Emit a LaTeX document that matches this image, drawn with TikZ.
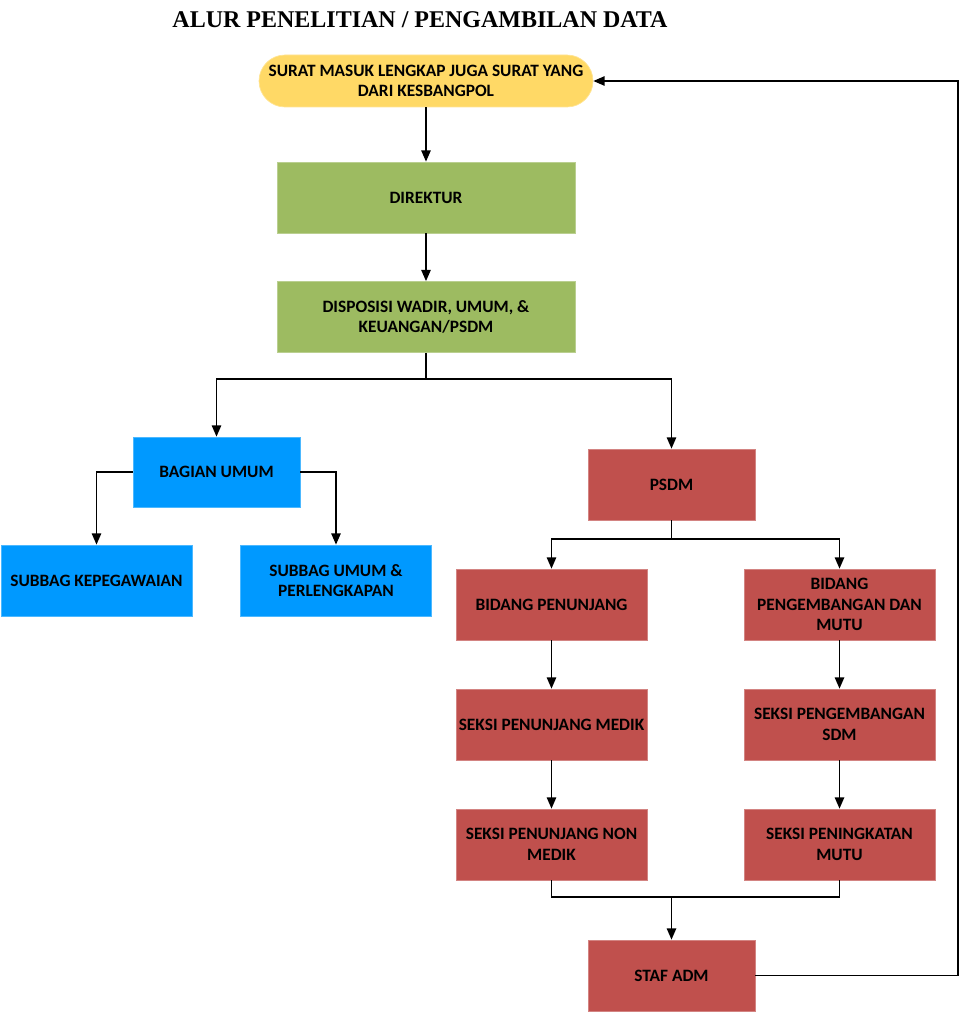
\documentclass[tikz,border=0pt]{standalone}
\usepackage{fontspec}
\setmainfont{Carlito}
\newfontfamily\titlefont{Liberation Serif}
\usetikzlibrary{arrows.meta}

\definecolor{suratyellow}{RGB}{255,217,102}
\definecolor{dirgreen}{RGB}{157,187,97}
\definecolor{umumblue}{RGB}{0,153,255}
\definecolor{psdmred}{RGB}{192,80,77}

\tikzset{
  box/.style={draw=#1!70!white, fill=#1, line width=0.5pt, align=center,
    font=\bfseries\fontsize{13}{15.5}\selectfont, inner sep=2pt},
  wide/.style={box=dirgreen, minimum width=223.5pt, minimum height=53.25pt},
  mid/.style={box=#1, minimum width=143.25pt, minimum height=53.25pt},
  small/.style={box=#1, minimum width=125.25pt, minimum height=53.25pt},
  line/.style={line width=1.3pt},
}

\begin{document}
\begin{tikzpicture}[x=0.75pt,y=-0.75pt,>={Triangle[length=8.5pt,width=7pt]}]
    % frame of the page
    \useasboundingbox (0,0) rectangle (961,1013);

    % title
    \node (title) at (420,20) {\titlefont\bfseries\fontsize{18}{20}\selectfont ALUR PENELITIAN / PENGAMBILAN DATA};

    % top of the flow
    \node[box=suratyellow, minimum width=250.5pt, minimum height=39pt, rounded corners=19.5pt] (surat) at (426,81)
        {SURAT MASUK LENGKAP JUGA SURAT YANG\\DARI KESBANGPOL};
    \node[wide] (direktur) at (426,197.5) {DIREKTUR};
    \node[wide] (disposisi) at (426,317) {DISPOSISI WADIR, UMUM, \&\\KEUANGAN/PSDM};

    % bagian umum
    \node[small=umumblue, minimum height=52.5pt] (bagian) at (216.5,472) {BAGIAN UMUM};
    \node[mid=umumblue] (kepeg) at (96.5,580.5) {SUBBAG KEPEGAWAIAN};
    \node[mid=umumblue] (perleng) at (336,580.5) {SUBBAG UMUM \&\\PERLENGKAPAN};

    % psdm
    \node[small=psdmred] (psdm) at (671.5,484.5) {PSDM};
    \node[mid=psdmred] (penunjang) at (551.5,604.5) {BIDANG PENUNJANG};
    \node[mid=psdmred] (mutu) at (839.5,604.5) {BIDANG\\PENGEMBANGAN DAN\\MUTU};
    \node[mid=psdmred] (medik) at (551.5,724.5) {SEKSI PENUNJANG MEDIK};
    \node[mid=psdmred] (sdm) at (839.5,724.5) {SEKSI PENGEMBANGAN\\SDM};
    \node[mid=psdmred] (nonmedik) at (551.5,844.5) {SEKSI PENUNJANG NON\\MEDIK};
    \node[mid=psdmred] (tingkat) at (839.5,844.5) {SEKSI PENINGKATAN\\MUTU};
    \node[small=psdmred] (staf) at (671.5,975.5) {STAF ADM};

    % junctions
    \coordinate (split1) at (426,379);
    \coordinate (split2) at (671.5,539);
    \coordinate (merge) at (671.5,897);
    \coordinate (back) at (958,975.5);

    % connectors
    \draw[line,->] (surat) -- (direktur);
    \draw[line,->] (direktur) -- (disposisi);
    \draw[line] (disposisi) -- (split1);
    \draw[line,->] (split1) -| (bagian);
    \draw[line,->] (split1) -| (psdm);
    \draw[line,->] (bagian.west) -| (kepeg);
    \draw[line,->] (bagian.east) -| (perleng);
    \draw[line] (psdm) -- (split2);
    \draw[line,->] (split2) -| (penunjang);
    \draw[line,->] (split2) -| (mutu);
    \draw[line,->] (penunjang) -- (medik);
    \draw[line,->] (medik) -- (nonmedik);
    \draw[line,->] (mutu) -- (sdm);
    \draw[line,->] (sdm) -- (tingkat);
    \draw[line] (nonmedik) |- (merge);
    \draw[line] (tingkat) |- (merge);
    \draw[line,->] (merge) -- (staf);
    \draw[line,->] (staf) -- (back) |- (surat);
\end{tikzpicture}
\end{document}
